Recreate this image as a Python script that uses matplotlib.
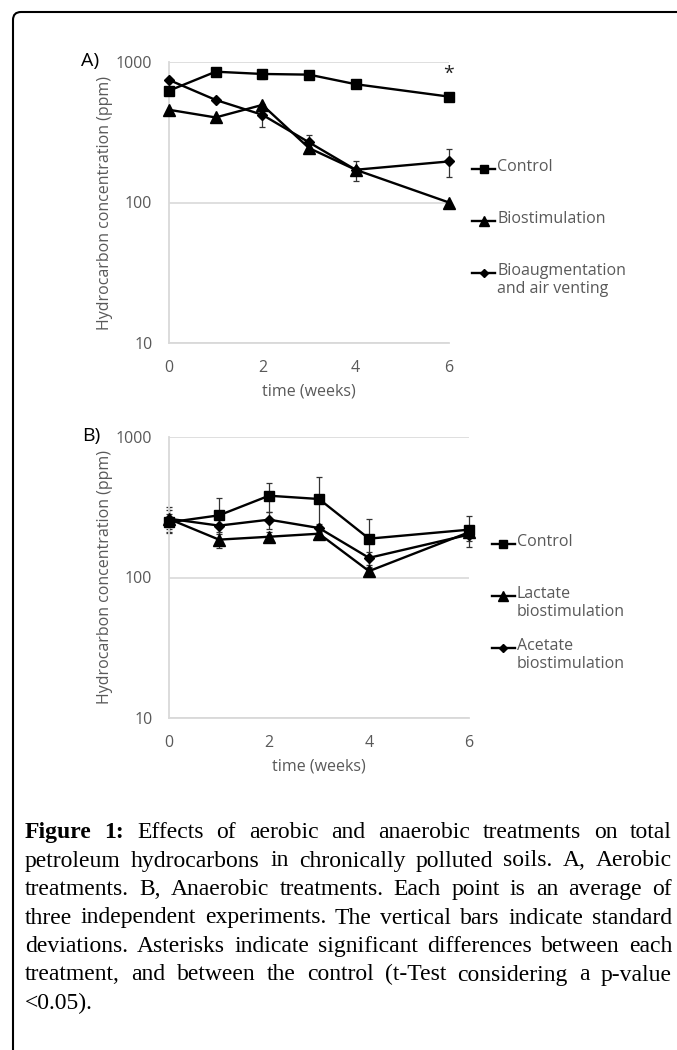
import numpy as np
import matplotlib.pyplot as plt
from matplotlib.lines import Line2D
from matplotlib.patches import FancyBboxPatch

# Panel A : traitements aérobies
weeks_a = [0, 1, 2, 3, 4, 6]
control_a = [625, 853, 822, 813, 695, 567]
control_a_err = [0, 0, 60, 0, 0, 0]
biostim_a = [457, 403, 495, 244, 171, 100]
biostim_a_err = [0, 0, 0, 15, 0, 0]
bioaug_a = [745, 537, 421, 268, 171, 196]
bioaug_a_err = [0, 0, 78, 32, 28, 45]
labels_a = ["Control", "Biostimulation", "Bioaugmentation\nand air venting"]
star_a = (6, 830)

# Panel B : traitements anaérobies
weeks_b = [0, 1, 2, 3, 4, 6]
control_b = [247, 277, 382, 362, 189, 219]
control_b_err = [35, 90, 88, 160, 72, 53]
lactate_b = [261, 186, 195, 205, 111, 210]
lactate_b_err = [55, 25, 15, 10, 8, 15]
acetate_b = [262, 234, 258, 225, 138, 202]
acetate_b_err = [40, 30, 35, 15, 15, 20]
labels_b = ["Control", "Lactate\nbiostimulation", "Acetate\nbiostimulation"]

yticks = [10, 100, 1000]
xticks = [0, 2, 4, 6]

caption = [
    "Figure 1: Effects of aerobic and anaerobic treatments on total",
    "petroleum hydrocarbons in chronically polluted soils. A, Aerobic",
    "treatments. B, Anaerobic treatments. Each point is an average of",
    "three independent experiments. The vertical bars indicate standard",
    "deviations. Asterisks indicate significant differences between each",
    "treatment, and between the control (t-Test considering a p-value",
    "<0.05).",
]

W, H = 677, 1050
GRAY = "#595959"
SANS = ["Open Sans", "DejaVu Sans"]
SERIF = ["Liberation Serif", "DejaVu Serif"]

fig = plt.figure(figsize=(W / 100, H / 100), dpi=100)


def px(x, y):
    # pixels (origine en haut à gauche) -> fraction de la figure
    return x / W, 1 - y / H


def axes_box(left, top, right, bottom):
    return [left / W, 1 - bottom / H, (right - left) / W, (bottom - top) / H]


markers = ["s", "^", "D"]
msizes = [7.5, 8, 4.8]


def panel(ax, weeks, series, errs):
    for vals, err, m, ms in zip(series, errs, markers, msizes):
        w = np.array(weeks)
        v = np.array(vals, dtype=float)
        e = np.array(err, dtype=float)
        keep = e > 0
        if keep.any():
            ax.errorbar(w[keep], v[keep], yerr=e[keep], fmt="none",
                        ecolor="#333333", elinewidth=0.9, capsize=2.5,
                        capthick=0.9, zorder=2, clip_on=False)
        ax.plot(w, v, color="black", lw=1.7, marker=m, ms=ms,
                zorder=3, clip_on=False)
    ax.set_yscale("log")
    ax.set_ylim(10, 1000)
    ax.set_xlim(0, 6)
    ax.set_yticks(yticks)
    ax.set_yticklabels([str(t) for t in yticks])
    ax.yaxis.set_minor_locator(plt.NullLocator())
    ax.set_xticks(xticks)
    ax.grid(axis="y", color="#d9d9d9", lw=1.2)
    ax.set_axisbelow(True)
    for s in ["top", "right"]:
        ax.spines[s].set_visible(False)
    for s in ["left", "bottom"]:
        ax.spines[s].set_color("#d9d9d9")
        ax.spines[s].set_linewidth(1.3)
    ax.tick_params(axis="both", length=0, labelsize=11.5, colors=GRAY)
    ax.tick_params(axis="y", pad=12)
    ax.tick_params(axis="x", pad=12)
    for lab in ax.get_xticklabels() + ax.get_yticklabels():
        lab.set_family(SANS)
    ax.set_ylabel("Hydrocarbon concentration (ppm)", fontsize=11.5,
                  color=GRAY, family=SANS)
    ax.set_xlabel("time (weeks)", fontsize=11.5, color=GRAY, family=SANS)


def legend(x0, ys, labels):
    for y, lab, m, ms in zip(ys, labels, markers, msizes):
        xa, ya = px(x0, y)
        xb, _ = px(x0 + 23, y)
        xm, _ = px(x0 + 11.5, y)
        fig.add_artist(Line2D([xa, xb], [ya, ya], color="black", lw=1.7,
                              transform=fig.transFigure))
        fig.add_artist(Line2D([xm], [ya], color="black", marker=m,
                              ms=ms * 0.85, transform=fig.transFigure))
        tx, _ = px(x0 + 25, y)
        fig.text(tx, 1 - (y - 10) / H, lab, fontsize=11.5, color=GRAY,
                 family=SANS, va="top", ha="left", linespacing=1.2)


# --- panneau A
axA = fig.add_axes(axes_box(169, 62, 449, 343))
panel(axA, weeks_a, [control_a, biostim_a, bioaug_a],
      [control_a_err, biostim_a_err, bioaug_a_err])
axA.yaxis.set_label_coords(-0.2, 0.5)
axA.xaxis.set_label_coords(0.5, -0.145)
axA.text(star_a[0], star_a[1], "*", ha="center", va="center", fontsize=14,
         color="#222222", family=SANS)
fig.text(*px(81, 61), "A)", fontsize=14, family=SANS, va="center")
legend(472, [169, 221, 273], labels_a)

# --- panneau B
axB = fig.add_axes(axes_box(169, 437, 469, 718))
panel(axB, weeks_b, [control_b, lactate_b, acetate_b],
      [control_b_err, lactate_b_err, acetate_b_err])
axB.yaxis.set_label_coords(-0.187, 0.5)
axB.xaxis.set_label_coords(0.5, -0.145)
fig.text(*px(82, 436), "B)", fontsize=14, family=SANS, va="center")
legend(492, [544, 596, 648], labels_b)

# --- cadre arrondi (ouvert à droite et en bas)
frame = FancyBboxPatch((0.13, -1.0), 12.0, (H - 12) / 100 + 1.0,
                       boxstyle="round,pad=0,rounding_size=0.08",
                       fill=False, lw=1.5, ec="black",
                       transform=fig.dpi_scale_trans)
fig.add_artist(frame)

# --- légende de la figure, texte justifié
renderer = fig.canvas.get_renderer()
cap_size = 17
left, right = 25, 672
base0, step = 838, 28.5


def word_width(w, bold):
    t = fig.text(0, 0, w, fontsize=cap_size, family=SERIF,
                 weight="bold" if bold else "normal")
    wd = t.get_window_extent(renderer).width
    t.remove()
    return wd


space = word_width("a a", False) - word_width("aa", False)
for i, line in enumerate(caption):
    words = line.split(" ")
    bolds = [i == 0 and j < 2 for j in range(len(words))]
    widths = [word_width(w, b) for w, b in zip(words, bolds)]
    last = i == len(caption) - 1
    if last or len(words) == 1:
        gap = space
    else:
        gap = (right - left - sum(widths)) / (len(words) - 1)
    x = left
    y = base0 + i * step
    for w, b, wd in zip(words, bolds, widths):
        fig.text(*px(x, y), w, fontsize=cap_size, family=SERIF,
                 weight="bold" if b else "normal", va="baseline",
                 ha="left", color="black")
        x += wd + gap

fig.savefig("out.png", dpi=100)
